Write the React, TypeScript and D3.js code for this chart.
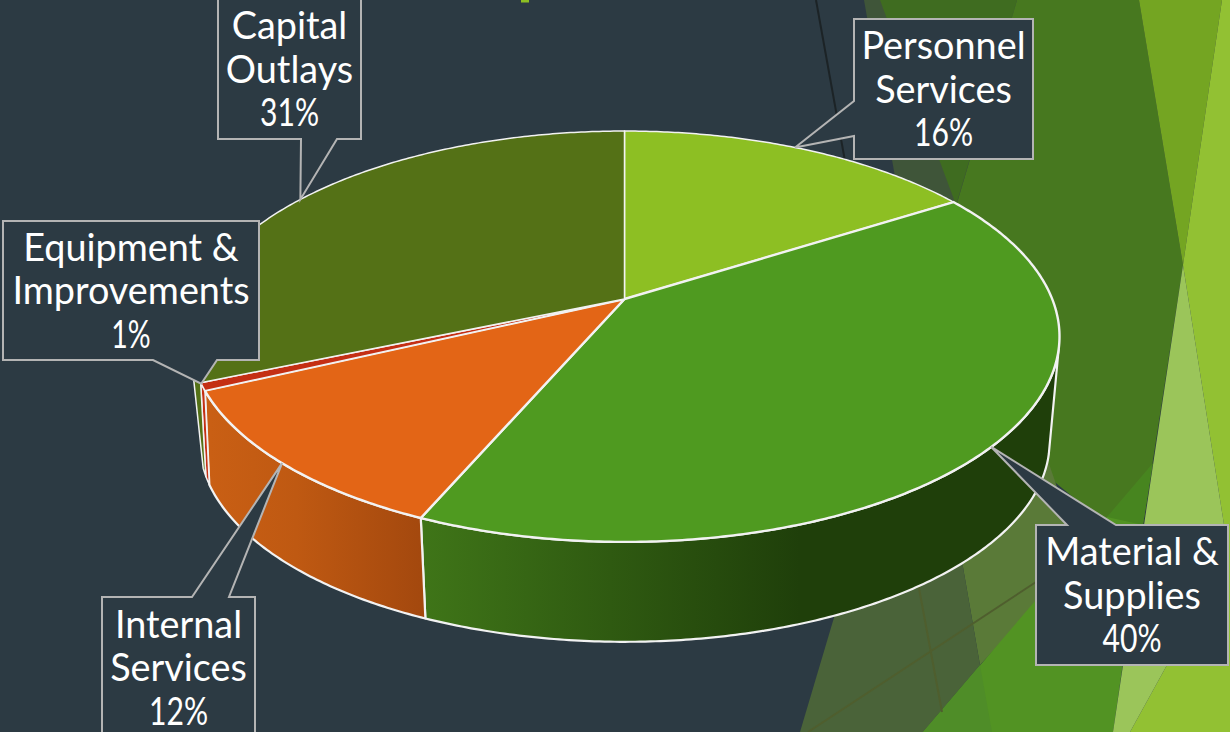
import React from 'react';
import * as d3 from 'd3';

const categories = [
	['Personnel', 'Services'],
	['Material &', 'Supplies'],
	['Internal', 'Services'],
	['Equipment &', 'Improvements'],
	['Capital', 'Outlays'],
];
const shares = [16, 40.49, 11.51, 0.6, 31.4];
const topColors = ['#8DBF23', '#4F9A20', '#E36516', '#C42F14', '#547116'];
const wallFills = ['#8DBF23', 'url(#wallMaterial)', 'url(#wallInternal)', '#C42F14', '#547116'];

const WIDTH = 1230;
const HEIGHT = 732;
const BG = '#2C3A43';
const FONT = 'Lato, sans-serif';
const rad = (deg: number) => (deg * Math.PI) / 180;

// Perspective disc: apex of the pie is not the centre of the drawn ellipse
const cx = 624.5;
const k = 0.1824;
const topRim = { y0: 299, a: 427.7, b: 198.6 };
const lowRim = { y0: 405, a: 418, b: 193.6 };
const wallFrom = rad(104);
const wallTo = rad(258);
const lowWallTo = rad(252);

const project = (t: number, rim = topRim): [number, number] => {
	const d = 1 + k * Math.cos(t);
	return [cx + (rim.a * Math.sin(t)) / d, rim.y0 - (rim.b * Math.cos(t)) / d];
};

const arcPoints = (t0: number, t1: number, rim = topRim): [number, number][] => {
	const n = Math.max(2, Math.ceil((t1 - t0) / 0.01));
	return d3.range(n + 1).map((i) => project(t0 + ((t1 - t0) * i) / n, rim));
};

// left hand seams lean a little further round on the lower rim
const lowAngle = (t: number) => Math.min(t + Math.max(0, t - rad(203.4)) * 0.065, lowWallTo);

const line = d3.line();
const arcs = d3
	.pie<number>()
	.sort(null)
	.startAngle(0)
	.endAngle(2 * Math.PI)(shares);
const pct = d3.format('.0%');

// Callout boxes [left, top, right, bottom], pointer side and where it leaves the box
const boxes = [
	{ r: [854, 19, 1033, 159], side: 'left', base: [101, 136], nudge: -1.2 },
	{ r: [1036, 525, 1228, 665], side: 'top', base: [1067, 1116], nudge: 0.5 },
	{ r: [102, 597, 255, 738], side: 'top', base: [192, 229], nudge: 0 },
	{ r: [3, 221, 259, 360], side: 'bottom', base: [153, 217], nudge: 0.8 },
	{ r: [218, -1, 361, 139], side: 'bottom', base: [301, 337], nudge: 0 },
];

const calloutPath = (b: (typeof boxes)[number], tip: [number, number]) => {
	const [l, t, r, bt] = b.r;
	const [p, q] = b.base;
	const pts: [number, number][] = [[l, t]];
	if (b.side === 'top') pts.push([p, t], tip, [q, t]);
	pts.push([r, t], [r, bt]);
	if (b.side === 'bottom') pts.push([q, bt], tip, [p, bt]);
	pts.push([l, bt]);
	if (b.side === 'left') pts.push([l, q], tip, [l, p]);
	return line(pts) + 'Z';
};

// Facets of the slide background
const facets: [string, [number, number][]][] = [
	['#3F5539', [[864, 0], [1017, 0], [921, 325]]],
	['#3F6C20', [[880, 0], [1017, 0], [956, 205]]],
	['#47781F', [[1017, 0], [1139, 0], [1183, 265], [1143, 525], [1107, 525], [1040, 470], [921, 325]]],
	['#47851F', [[1153, 463], [1143, 525], [1100, 525], [1107, 517]]],
	['#5A7A38', [[921, 325], [1046, 455], [1070, 525], [1040, 600], [980, 665]]],
	['#4A6339', [[921, 325], [980, 665], [923, 732], [800, 732]]],
	['#529323', [[923, 732], [1107, 517], [1143, 525], [1113, 732]]],
	['#4F8D28', [[980, 665], [992, 732], [923, 732]]],
	['#74A522', [[1139, 0], [1222, 0], [1183, 265]]],
	['#92C133', [[1222, 0], [1230, 0], [1230, 732], [1130, 732], [1167, 665], [1228, 550], [1183, 265]]],
	['#9BC55A', [[1183, 265], [1228, 550], [1167, 665], [1130, 732], [1113, 732]]],
];

export default function App() {
	const slices = arcs.map((a) => ({ t0: a.startAngle, t1: a.endAngle, mid: (a.startAngle + a.endAngle) / 2 }));

	return (
		<svg
			width={WIDTH}
			height={HEIGHT}
			style={{ position: 'absolute', left: 0, top: 0, display: 'block' }}
			fontFamily={FONT}>
			<defs>
				<linearGradient id='wallMaterial' gradientUnits='userSpaceOnUse' x1={421} x2={800} y1={0} y2={0}>
					<stop offset='0%' stopColor='#3F7518' />
					<stop offset='100%' stopColor='#1F3F0A' />
				</linearGradient>
				<linearGradient id='wallInternal' gradientUnits='userSpaceOnUse' x1={210} x2={425} y1={0} y2={0}>
					<stop offset='0%' stopColor='#C95F14' />
					<stop offset='40%' stopColor='#BF5912' />
					<stop offset='100%' stopColor='#A3480E' />
				</linearGradient>
			</defs>

			<rect width={WIDTH} height={HEIGHT} fill={BG} />
			{facets.map(([fill, pts], i) => (
				<path key={i} d={line(pts) + 'Z'} fill={fill} />
			))}
			<path d={line([[816, 0], [870, 300]]) ?? ''} stroke='#1C2326' strokeWidth={2} fill='none' />
			<path d={line([[918, 583], [942, 712]]) ?? ''} stroke='#4F5E2E' strokeWidth={2} fill='none' />
			<path d={line([[808, 732], [1036, 582]]) ?? ''} stroke='#4F5E2E' strokeWidth={2} fill='none' />
			<rect x={521} y={0} width={8} height={2.5} fill='#8DBF23' />

			{/* Side walls */}
			{slices.map((s, i) => {
				const t0 = Math.max(s.t0, wallFrom);
				const t1 = Math.min(s.t1, wallTo);
				if (t1 <= t0) return null;
				const pts = [...arcPoints(t0, t1), ...arcPoints(lowAngle(t0), lowAngle(t1), lowRim).reverse()];
				return (
					<path
						key={i}
						d={line(pts) + 'Z'}
						fill={wallFills[i]}
						stroke='#F2F2F2'
						strokeWidth={i === 1 || i === 2 ? 2.2 : 1.5}
						strokeLinejoin='round'
					/>
				);
			})}

			{/* Top of the pie */}
			{slices.map((s, i) => (
				<path
					key={i}
					d={line([[cx, topRim.y0], ...arcPoints(s.t0, s.t1)]) + 'Z'}
					fill={topColors[i]}
					stroke='#F2F2F2'
					strokeWidth={i === 1 || i === 2 ? 2.4 : 1.5}
					strokeLinejoin='round'
				/>
			))}

			{/* Callouts */}
			{boxes.map((b, i) => {
				const [l, t, r, bt] = b.r;
				const mx = (l + r) / 2;
				const my = (t + bt) / 2;
				const label = pct(shares[i] / d3.sum(shares));
				return (
					<g key={i}>
						<path
							d={calloutPath(b, project(slices[i].mid + rad(b.nudge)))}
							fill={BG}
							stroke='#B4B4B4'
							strokeWidth={2}
							strokeLinejoin='miter'
						/>
						{categories[i].map((txt, j) => (
							<text key={j} x={mx} y={my - 30 + j * 43.5} textAnchor='middle' fontSize={37.8} fill='#FFFFFF'>
								{txt}
							</text>
						))}
						<text
							x={mx}
							y={my - 30 + 2 * 43.5}
							textAnchor='middle'
							fontSize={37.8}
							fill='#FFFFFF'
							textLength={label.length * 19.7}
							lengthAdjust='spacingAndGlyphs'>
							{label}
						</text>
					</g>
				);
			})}
		</svg>
	);
}
